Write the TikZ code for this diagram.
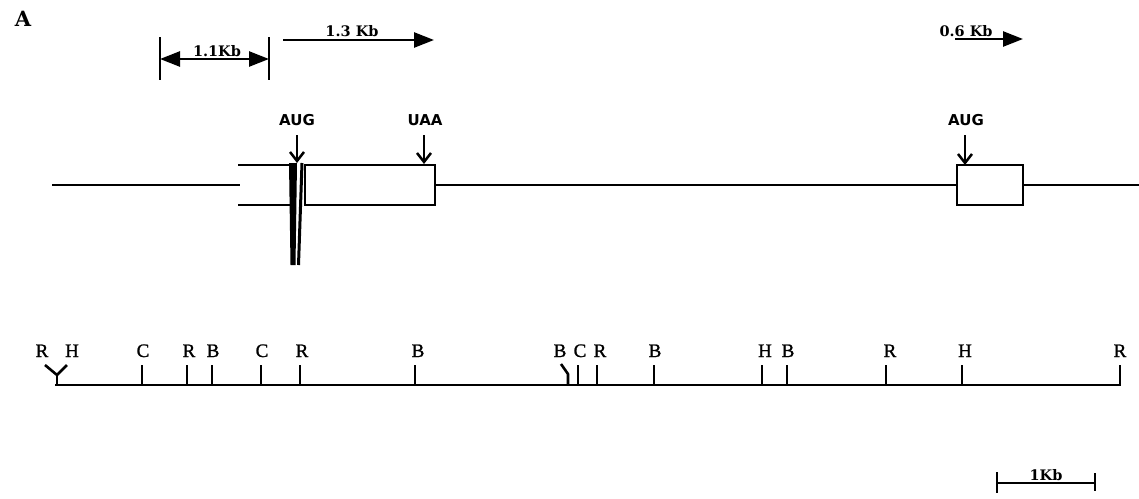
\documentclass[tikz,border=0pt]{standalone}
\usepackage{fontspec}
\newfontfamily\sitefont[FakeBold=1.2]{Liberation Serif}
\newfontfamily\lblfont{DejaVu Serif}
\newfontfamily\codonfont{DejaVu Sans}
\usetikzlibrary{arrows.meta}
\begin{document}
\begin{tikzpicture}[x=1pt,y=-1pt,
  ln/.style={line width=2.5pt},
  site/.style={font=\sitefont\fontsize{19}{22}\selectfont, anchor=base, inner sep=0pt},
  toplbl/.style={font=\lblfont\bfseries\fontsize{14.5}{17}\selectfont, anchor=base, inner sep=0pt},
  codon/.style={font=\codonfont\bfseries\fontsize{15}{18}\selectfont, anchor=base, inner sep=0pt},
  tri/.style={-{Triangle[length=20pt,width=15pt]}},
  dtri/.style={{Triangle[length=20pt,width=15pt]}-{Triangle[length=20pt,width=15pt]}},
  barb/.style={-{Straight Barb[length=9pt,width=14pt,line width=2.5pt]}},
  exon/.style={draw, line width=2.5pt, inner sep=0pt},
  tick/.style={line width=2.6pt}]
\useasboundingbox (0,0) rectangle (1139,498);

% panel letter
\node[font=\lblfont\bfseries\fontsize{21}{24}\selectfont, anchor=base, inner sep=0pt] (A) at (23,26) {A};

% 1.1 Kb bracket
\coordinate (b1t) at (160,37); \coordinate (b1b) at (160,80);
\coordinate (b2t) at (269,37); \coordinate (b2b) at (269,80);
\draw[ln] (b1t) -- (b1b);
\draw[ln] (b2t) -- (b2b);
\coordinate (a11l) at (160,59); \coordinate (a11r) at (269,59);
\draw[ln, dtri] (a11l) -- (a11r);
\node[toplbl] (t11) at (217,56) {1.1Kb};

% 1.3 Kb arrow
\coordinate (a13l) at (283,40); \coordinate (a13r) at (434,40);
\draw[ln, tri] (a13l) -- (a13r);
\node[toplbl] (t13) at (352,36) {1.3 Kb};

% 0.6 Kb arrow
\coordinate (a06l) at (955,39); \coordinate (a06r) at (1023,39);
\draw[ln, tri] (a06l) -- (a06r);
\node[toplbl] (t06) at (966,36) {0.6 Kb};

% gene
\node[exon, minimum width=130pt, minimum height=40pt] (box1) at (370,185) {};
\node[exon, minimum width=66pt, minimum height=40pt] (box2) at (990,185) {};
\coordinate (g0) at (52,185); \coordinate (g1) at (240,185);
\coordinate (gend) at (1139,185);
\draw[ln] (g0) -- (g1);
\draw[ln] (box1.east) -- (box2.west);
\draw[ln] (box2.east) -- (gend);
\coordinate (u0) at (238,165); \coordinate (u1) at (292,165);
\coordinate (l0) at (238,205); \coordinate (l1) at (292,205);
\draw[ln] (u0) -- (u1);
\draw[ln] (l0) -- (l1);
\fill (289,163) -- (297,163) -- (295.5,265) -- (290.5,265) -- cycle;
\coordinate (s0) at (302,163); \coordinate (s1) at (298.5,265);
\draw[line width=3pt] (s0) -- (s1);

% codon labels and arrows
\node[codon] (aug1) at (297,125) {AUG};
\node[codon] (uaa) at (425,125) {UAA};
\node[codon] (aug2) at (966,125) {AUG};
\coordinate (q1) at (297,135); \coordinate (q2) at (424,135); \coordinate (q3) at (965,135);
\coordinate (p1) at (297,163); \coordinate (p2) at (424,164); \coordinate (p3) at (965,165);
\draw[ln, barb] (q1) -- (p1);
\draw[ln, barb] (q2) -- (p2);
\draw[ln, barb] (q3) -- (p3);

% restriction map baseline
\coordinate (m0) at (55,385); \coordinate (m1) at (1121,385);
\draw[tick] (m0) -- (m1);
% Y-shaped R/H pair
\coordinate (y0) at (57,385); \coordinate (y1) at (57,375);
\draw[tick, line join=round] (45,365) -- (y1) -- (67,365);
\draw[tick] (y1) -- (y0);
% slanted B
\draw[tick, line join=round] (561,364) -- (568,374) -- (568,385);
% straight ticks
\foreach \x in {142,187,212,261,300,415,578,597,654,762,787,886,962,1120}
  \draw[tick] (\x,365) -- (\x,385);

% site labels
\foreach \x/\t/\n in {42/R/r1,72/H/h1,143/C/c1,189/R/r2,213/B/bb1,262/C/c2,302/R/r3,418/B/bb2,560/B/bb3,580/C/c3,600/R/r4,655/B/bb4,765/H/h2,788/B/bb5,890/R/r5,965/H/h3,1120/R/r6}
  \node[site] (\n) at (\x,357) {\t};

% scale bar
\coordinate (sl0) at (997,472); \coordinate (sl1) at (997,493);
\coordinate (sr0) at (1095,473); \coordinate (sr1) at (1095,491);
\draw[ln] (sl0) -- (sl1);
\draw[ln] (sr0) -- (sr1);
\draw[ln] (997,483) -- (1095,483);
\node[toplbl] (kb) at (1046,480) {1Kb};
\end{tikzpicture}
\end{document}
